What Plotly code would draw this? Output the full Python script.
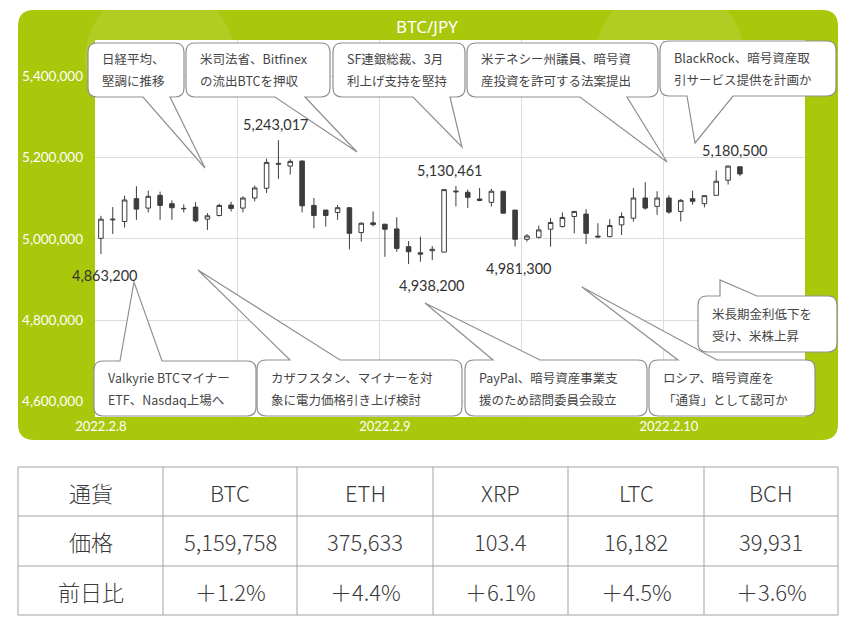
import plotly.graph_objects as go

W, H = 853, 632
OFF = 8  # page body margin

# hourly candles, 2022.2.8 00:00 onward
opens = [5001650, 5047000, 5043000, 5099200, 5076000, 5107400, 5086800, 5075200, 5078500, 5048800,
         5057800, 5083500, 5076000, 5100800, 5124800, 5186000, 5179300, 5191700, 5082600, 5071100,
         5065300, 5076900, 5015700, 5039700, 5036400, 5024800, 4981000, 4966100, 4971100, 4967800,
         5115700, 5114900, 5098300, 5090100, 5117400, 5071100, 4999200, 5004100, 5024000, 5030600,
         5055400, 5061200, 5007000, 5005800, 5034700, 5051200, 5100800, 5080200, 5100800, 5067800,
         5099200, 5086800, 5107400, 5144600, 5177700]
highs = [5057000, 5078500, 5106600, 5129700, 5119000, 5116500, 5095000, 5085100, 5090900, 5063600,
         5086800, 5091700, 5105000, 5131400, 5197500, 5243017, 5195900, 5193400, 5100800, 5071100,
         5083500, 5078500, 5041300, 5067800, 5036400, 5053700, 4995000, 5005800, 4982600, 5121500,
         5130461, 5121500, 5125600, 5123100, 5118200, 5071100, 5012400, 5033100, 5051200, 5065300,
         5069000, 5073500, 5038800, 5048800, 5065300, 5125600, 5139700, 5117400, 5107400, 5098300,
         5119000, 5106600, 5168600, 5180500, 5178000]
lows = [4963200, 5012400, 5028100, 5047100, 5065300, 5047100, 5047100, 5065300, 5041300, 5022300,
        5055400, 5067800, 5065300, 5092600, 5113200, 5147900, 5158700, 5065300, 5026400, 5030600,
        5047100, 4974400, 4993400, 5030600, 4956200, 4968600, 4938200, 4944000, 4948000, 4967800,
        5080200, 5076000, 5092600, 5080200, 5062000, 4981300, 4993400, 5001700, 4981000, 5028100,
        5014000, 4987600, 5003500, 5004100, 5009900, 5043000, 5071900, 5059500, 5062000, 5043000,
        5084300, 5077700, 5107400, 5133900, 5154500]
closes = [5048760, 5048500, 5095900, 5073500, 5105000, 5082600, 5076900, 5074500, 5044600, 5057000,
          5082600, 5075200, 5100800, 5125600, 5188400, 5184300, 5190900, 5081800, 5057800, 5057800,
          5076900, 5014000, 5038800, 5035500, 5024000, 4976900, 4968600, 4962800, 4974400, 5121500,
          5117400, 5102500, 5095000, 5117400, 5063600, 4999200, 5007400, 5022300, 5040500, 5052900,
          5067800, 5014000, 5005000, 5033100, 5055400, 5100800, 5076000, 5100800, 5066100, 5095000,
          5092600, 5106600, 5142100, 5179300, 5160000]
idx = list(range(len(opens)))

day_pos = [0, 24, 48]
day_labels = ["2022.2.8", "2022.2.9", "2022.2.10"]
half_day_grid = [-0.5, 11.5, 23.5, 35.5, 47.5]
y_ticks = [4600000, 4800000, 5000000, 5200000, 5400000]

# price labels: candle index, "high"/"low", text
mark_idx = [0, 15, 26, 30, 35, 53]
mark_side = ["low", "high", "low", "high", "low", "high"]
mark_text = ["4,863,200", "5,243,017", "4,938,200", "5,130,461", "4,981,300", "5,180,500"]
mark_dx = [4, -3, 23, -6, 3, 6]

# news bubbles
news = [
    ["日経平均、", "堅調に推移"],
    ["米司法省、Bitfinex", "の流出BTCを押収"],
    ["SF連銀総裁、3月", "利上げ支持を堅持"],
    ["米テネシー州議員、暗号資", "産投資を許可する法案提出"],
    ["BlackRock、暗号資産取", "引サービス提供を計画か"],
    ["Valkyrie BTCマイナー", "ETF、Nasdaq上場へ"],
    ["カザフスタン、マイナーを対", "象に電力価格引き上げ検討"],
    ["PayPal、暗号資産事業支", "援のため諮問委員会設立"],
    ["ロシア、暗号資産を", "「通貨」として認可か"],
    ["米長期金利低下を", "受け、米株上昇"],
]
# box (x0, y0, x1, y1) and tail (base0, base1, tip x, tip y), pixels
boxes = [(88, 43, 184, 97), (186, 43, 330, 97), (333, 43, 465, 97), (467, 43, 658, 97),
         (660, 41, 836, 96), (94, 361, 256, 416), (257, 360, 462, 416), (465, 360, 647, 416),
         (649, 360, 815, 416), (698, 296, 837, 352)]
tails = [(143, 170, 205, 168), (275, 305, 357, 152), (413, 450, 462, 147), (580, 627, 667, 162),
         (687, 733, 695, 143), (120, 162, 134, 282), (290, 340, 198, 270), (493, 540, 425, 303),
         (678, 717, 582, 287), (720, 757, 720, 280)]

# table
tbl_head = ["通貨", "BTC", "ETH", "XRP", "LTC", "BCH"]
tbl_price = ["価格", "5,159,758", "375,633", "103.4", "16,182", "39,931"]
tbl_change = ["前日比", "＋1.2%", "＋4.4%", "＋6.1%", "＋4.5%", "＋3.6%"]
tbl_cols = [18, 163, 297, 433, 568, 704, 838]
tbl_rows = [467, 516, 566, 615]

GREEN = "#a9c80c"
plot_l, plot_r, plot_t, plot_b = 95, 805, 40, 417


def px(x):
    return (x - OFF) / W


def py(y):
    return 1 - (y - OFF) / H


def rrect(x0, y0, x1, y1, r):
    return (f"M {px(x0 + r)},{py(y0)} L {px(x1 - r)},{py(y0)} Q {px(x1)},{py(y0)} {px(x1)},{py(y0 + r)} "
            f"L {px(x1)},{py(y1 - r)} Q {px(x1)},{py(y1)} {px(x1 - r)},{py(y1)} "
            f"L {px(x0 + r)},{py(y1)} Q {px(x0)},{py(y1)} {px(x0)},{py(y1 - r)} "
            f"L {px(x0)},{py(y0 + r)} Q {px(x0)},{py(y0)} {px(x0 + r)},{py(y0)} Z")


def bubble(box, tail, r=9):
    x0, y0, x1, y1 = box
    b0, b1, tx, ty = tail
    top = ty < y0
    p = f"M {px(x0 + r)},{py(y0)} "
    if top:
        p += f"L {px(b0)},{py(y0)} L {px(tx)},{py(ty)} L {px(b1)},{py(y0)} "
    p += f"L {px(x1 - r)},{py(y0)} Q {px(x1)},{py(y0)} {px(x1)},{py(y0 + r)} "
    p += f"L {px(x1)},{py(y1 - r)} Q {px(x1)},{py(y1)} {px(x1 - r)},{py(y1)} "
    if not top:
        p += f"L {px(b1)},{py(y1)} L {px(tx)},{py(ty)} L {px(b0)},{py(y1)} "
    p += f"L {px(x0 + r)},{py(y1)} Q {px(x0)},{py(y1)} {px(x0)},{py(y1 - r)} "
    p += f"L {px(x0)},{py(y0 + r)} Q {px(x0)},{py(y0)} {px(x0 + r)},{py(y0)} Z"
    return p


fig = go.Figure()
fig.add_trace(go.Candlestick(
    x=idx, open=opens, high=highs, low=lows, close=closes,
    increasing=dict(line=dict(color="#3c3c3c", width=1), fillcolor="white"),
    decreasing=dict(line=dict(color="#3c3c3c", width=1), fillcolor="#3c3c3c"),
    whiskerwidth=0, showlegend=False, hoverinfo="skip",
))

shapes = [
    dict(type="path", xref="paper", yref="paper", path=rrect(18, 10, 838, 440, 16),
         fillcolor=GREEN, line=dict(width=0), layer="below"),
    # faint watermark circles on the green
    dict(type="circle", xref="paper", yref="paper", x0=px(85), x1=px(235), y0=py(135), y1=py(-15),
         fillcolor="rgba(255,255,255,0.10)", line=dict(width=0), layer="below"),
    dict(type="circle", xref="paper", yref="paper", x0=px(595), x1=px(745), y0=py(135), y1=py(-15),
         fillcolor="rgba(255,255,255,0.10)", line=dict(width=0), layer="below"),
    dict(type="rect", xref="paper", yref="paper", x0=px(plot_l), x1=px(plot_r), y0=py(plot_b), y1=py(plot_t),
         fillcolor="white", line=dict(width=0), layer="below"),
]
for b, t in zip(boxes, tails):
    shapes.append(dict(type="path", xref="paper", yref="paper", path=bubble(b, t),
                       fillcolor="white", line=dict(color="#8f8f8f", width=1.2)))

# table grid
grey = dict(color="#a3a3a3", width=1)
for cx in tbl_cols:
    shapes.append(dict(type="line", xref="paper", yref="paper", x0=px(cx), x1=px(cx),
                       y0=py(tbl_rows[0]), y1=py(tbl_rows[-1]), line=grey))
for ry in tbl_rows:
    shapes.append(dict(type="line", xref="paper", yref="paper", x0=px(tbl_cols[0]), x1=px(tbl_cols[-1]),
                       y0=py(ry), y1=py(ry), line=grey))

annotations = []
tfont = dict(family="Noto Sans CJK JP", size=22, color="#3a3a3a", weight=300)
for r, row in enumerate([tbl_head, tbl_price, tbl_change]):
    yc = (tbl_rows[r] + tbl_rows[r + 1]) / 2
    for c, val in enumerate(row):
        xc = (tbl_cols[c] + tbl_cols[c + 1]) / 2
        annotations.append(dict(xref="paper", yref="paper", x=px(xc), y=py(yc), text=val,
                                showarrow=False, xanchor="center", yanchor="middle", font=tfont))

for lines, b in zip(news, boxes):
    x0, y0, x1, y1 = b
    mid = (y0 + y1) / 2
    for k, line in enumerate(lines):
        annotations.append(dict(
            xref="paper", yref="paper", x=px(x0 + 12), y=py(mid - 11 + 22 * k),
            xanchor="left", yanchor="middle", showarrow=False, text=line,
            font=dict(family="Noto Sans CJK JP", size=12.5, color="#454545")))

for i, side, txt, dx in zip(mark_idx, mark_side, mark_text, mark_dx):
    if side == "high":
        annotations.append(dict(x=i, y=highs[i], xref="x", yref="y", text=txt, showarrow=False,
                                yanchor="bottom", yshift=5, xshift=dx,
                                font=dict(family="Lato", size=14.5, color="#333333")))
    else:
        annotations.append(dict(x=i, y=lows[i], xref="x", yref="y", text=txt, showarrow=False,
                                yanchor="top", yshift=-11, xshift=dx,
                                font=dict(family="Lato", size=14.5, color="#333333")))

fig.update_layout(
    width=W, height=H,
    margin=dict(l=0, r=0, t=0, b=0, autoexpand=False),
    paper_bgcolor="white", plot_bgcolor="white",
    boxgap=0.45,
    title=dict(text="BTC/JPY", x=px(427), y=py(27), xanchor="center", yanchor="middle",
               font=dict(family="Noto Sans", size=17, color="white")),
    shapes=shapes, annotations=annotations,
    xaxis=dict(domain=[px(plot_l), px(plot_r)], range=[-0.5, 59.5], rangeslider=dict(visible=False),
               tickvals=day_pos, ticktext=day_labels, showgrid=False, zeroline=False,
               tickfont=dict(family="Lato", size=13, color="white"), automargin=False,
               minor=dict(tickvals=half_day_grid, showgrid=True, gridcolor="#dcdcdc", gridwidth=1),
               ticks="", fixedrange=True),
    yaxis=dict(domain=[py(plot_b), py(plot_t)], range=[4562100, 5489500],
               tickvals=y_ticks, tickformat=",", showgrid=True, gridcolor="#dcdcdc", zeroline=False,
               tickfont=dict(family="Lato", size=13.5, color="white"), ticklabelstandoff=11,
               automargin=False, fixedrange=True),
)

fig.write_html("out.html")
